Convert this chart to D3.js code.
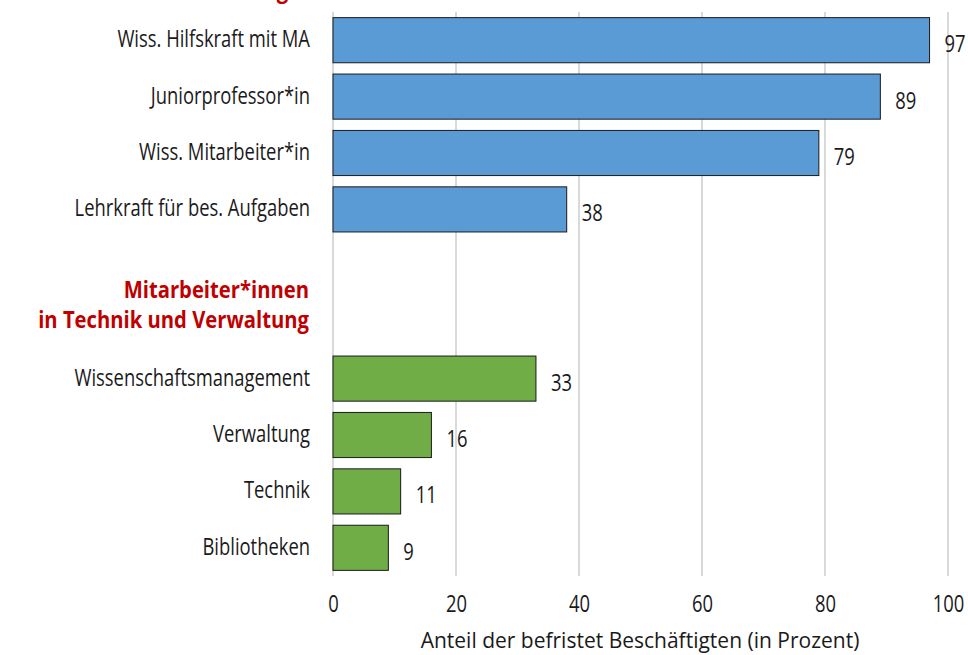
<!DOCTYPE html>
<html>
<head>
<meta charset="utf-8">
<script src="https://cdn.jsdelivr.net/npm/d3@7"></script>
<style>
  body { margin: 0; background: #fff; }
  text { font-family: "Open Sans", "Noto Sans", sans-serif; }
</style>
</head>
<body>
<div id="chart"></div>
<script>
// data
const groupHeaders = [
  ["Wissenschaftliche", "Beschäftigte"],
  ["Mitarbeiter*innen", "in Technik und Verwaltung"]
];
const scientificCats = ["Wiss. Hilfskraft mit MA", "Juniorprofessor*in", "Wiss. Mitarbeiter*in", "Lehrkraft für bes. Aufgaben"];
const scientificVals = [97, 89, 79, 38];
const staffCats = ["Wissenschaftsmanagement", "Verwaltung", "Technik", "Bibliotheken"];
const staffVals = [33, 16, 11, 9];
const xTicks = [0, 20, 40, 60, 80, 100];
const xTitle = "Anteil der befristet Beschäftigten (in Prozent)";

const width = 968, height = 655;
const margin = { left: 333, right: 20, top: 12, bottom: 79 };
const fontSize = "23px";
const squeeze = 0.8;      // the original uses a condensed face
const squeezeBold = 0.88;

const svg = d3.select("#chart").append("svg")
  .attr("width", width)
  .attr("height", height);

// slots: 4 blue bars, two empty slots for the second header, 4 green bars
const slots = [...scientificCats, "_gap1", "_gap2", ...staffCats];
const rows = scientificCats.map((c, i) => ({ cat: c, val: scientificVals[i], color: "#5B9BD5" }))
  .concat(staffCats.map((c, i) => ({ cat: c, val: staffVals[i], color: "#70AD47" })));

const x = d3.scaleLinear().domain([0, 100]).range([margin.left, 948]);
const y = d3.scaleBand().domain(slots)
  .range([margin.top, height - margin.bottom])
  .paddingInner(0.2).paddingOuter(0.1);

const place = (tx, ty, s) => "translate(" + tx + "," + ty + ") scale(" + s + ",1)";

// gridlines
svg.append("g").selectAll("line")
  .data(xTicks)
  .enter().append("line")
  .attr("x1", d => x(d)).attr("x2", d => x(d))
  .attr("y1", margin.top).attr("y2", height - margin.bottom)
  .style("stroke", "#d9d9d9")
  .style("stroke-width", 2);

// bars
svg.append("g").selectAll("rect")
  .data(rows)
  .enter().append("rect")
  .attr("x", x(0))
  .attr("y", d => y(d.cat))
  .attr("width", d => x(d.val) - x(0))
  .attr("height", y.bandwidth())
  .style("fill", d => d.color)
  .style("stroke", "#1a1a1a")
  .style("stroke-width", 1);

// value labels
svg.append("g").selectAll("text")
  .data(rows)
  .enter().append("text")
  .attr("transform", d => place(x(d.val) + 15, y(d.cat) + y.bandwidth() / 2 + 12, squeeze))
  .style("font-size", fontSize)
  .style("fill", "#1a1a1a")
  .text(d => d.val);

// category labels
svg.append("g").selectAll("text")
  .data(rows)
  .enter().append("text")
  .attr("transform", d => place(310, y(d.cat) + y.bandwidth() / 2 + 7, squeeze))
  .attr("text-anchor", "end")
  .style("font-size", fontSize)
  .style("fill", "#1a1a1a")
  .text(d => d.cat);

// group headers (first one sits above the visible area, only a descender shows)
const headerY = [y(scientificCats[0]) - 50, (y("_gap1") + y("_gap2") + y.bandwidth()) / 2 + 4];
groupHeaders.forEach((lines, i) => {
  const t = svg.append("text")
    .attr("transform", place(309, headerY[i], squeezeBold))
    .attr("text-anchor", "end")
    .style("font-size", fontSize)
    .style("font-weight", "bold")
    .style("fill", "#C00000");
  lines.forEach((l, j) => {
    t.append("tspan").attr("x", 0).attr("y", j * 30).text(l);
  });
});

// x axis tick labels
const xAxis = d3.axisBottom(x).tickValues(xTicks).tickSize(0).tickPadding(0);
const ax = svg.append("g")
  .attr("transform", "translate(0," + (height - margin.bottom) + ")")
  .call(xAxis);
ax.select(".domain").remove();
ax.selectAll("text")
  .attr("dy", null)
  .attr("y", 0)
  .attr("transform", "translate(0,36) scale(" + squeeze + ",1)")
  .style("font-size", fontSize)
  .style("font-family", "\"Open Sans\", sans-serif")
  .style("fill", "#1a1a1a");

svg.append("text")
  .attr("x", 640)
  .attr("y", 648)
  .attr("text-anchor", "middle")
  .style("font-size", "21px")
  .style("fill", "#1a1a1a")
  .text(xTitle);
</script>
</body>
</html>
